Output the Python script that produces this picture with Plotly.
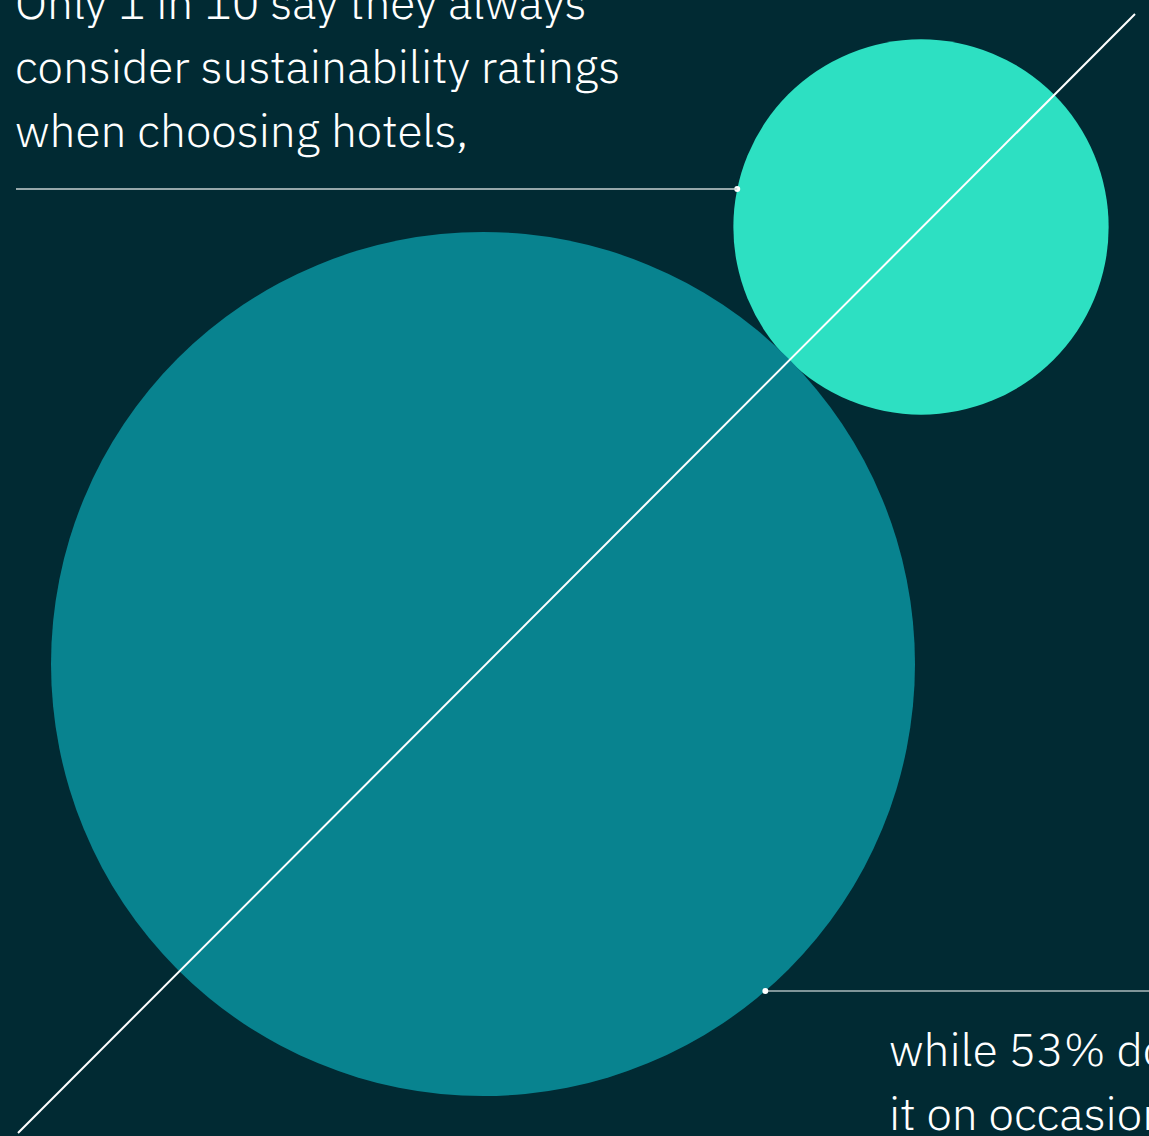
import math
import plotly.graph_objects as go

# ---- data ----
labels = ["Always consider", "Consider on occasion"]
values = [10, 53]  # percent
circle_colors = ["#2DE0C2", "#08838F"]
top_text_lines = ["Only 1 in 10 say they always", "consider sustainability ratings", "when choosing hotels,"]
bottom_text_lines = ["while 53% do consider", "it on occasion."]

W, H = 1149, 1136
BG = "#012A33"

# scale: circle area proportional to value
k = 432 / math.sqrt(53)
radii = [k * math.sqrt(v) for v in values]
centers = [(921, 227), (483, 664)]

fig = go.Figure()
shapes = []
for (cx, cy), r, col in zip(centers, radii, circle_colors):
    shapes.append(dict(type="circle", xref="x", yref="y", x0=cx - r, x1=cx + r, y0=cy - r, y1=cy + r,
                       fillcolor=col, line=dict(width=0), layer="below"))

# diagonal through both centers
shapes.append(dict(type="line", xref="x", yref="y", x0=18, y0=1133, x1=1135, y1=14,
                   line=dict(color="white", width=2)))
# leader lines
small_cx, small_cy = centers[0]
ly_top = 189
lx_top = small_cx - math.sqrt(radii[0] ** 2 - (small_cy - ly_top) ** 2)
shapes.append(dict(type="line", xref="x", yref="y", x0=16, y0=ly_top, x1=lx_top, y1=ly_top,
                   line=dict(color="#C9D2D3", width=1.5)))
big_cx, big_cy = centers[1]
ly_bot = 991
lx_bot = big_cx + math.sqrt(radii[1] ** 2 - (ly_bot - big_cy) ** 2)
shapes.append(dict(type="line", xref="x", yref="y", x0=lx_bot, y0=ly_bot, x1=W + 5, y1=ly_bot,
                   line=dict(color="white", width=1.2)))

fig.add_trace(go.Scatter(x=[lx_top, lx_bot], y=[ly_top, ly_bot], mode="markers",
                         marker=dict(color="white", size=6), hoverinfo="skip", showlegend=False))

FONT = dict(family="IBM Plex Sans, Open Sans, Noto Sans, sans-serif", size=46, color="white", weight=300)
annotations = []
for i, t in enumerate(top_text_lines):
    annotations.append(dict(x=13, y=22 + 64 * i, xref="x", yref="y", text=t, showarrow=False,
                            xanchor="left", yanchor="bottom", font=FONT, yshift=-12))
for i, t in enumerate(bottom_text_lines):
    annotations.append(dict(x=887, y=1069 + 64 * i, xref="x", yref="y", text=t, showarrow=False,
                            xanchor="left", yanchor="bottom", font=FONT, yshift=-12))

fig.update_layout(
    width=W, height=H, margin=dict(l=0, r=0, t=0, b=0),
    paper_bgcolor=BG, plot_bgcolor=BG,
    xaxis=dict(range=[0, W], visible=False, fixedrange=True),
    yaxis=dict(range=[H, 0], visible=False, fixedrange=True),
    shapes=shapes, annotations=annotations, showlegend=False,
)
fig.write_html("out.html")
